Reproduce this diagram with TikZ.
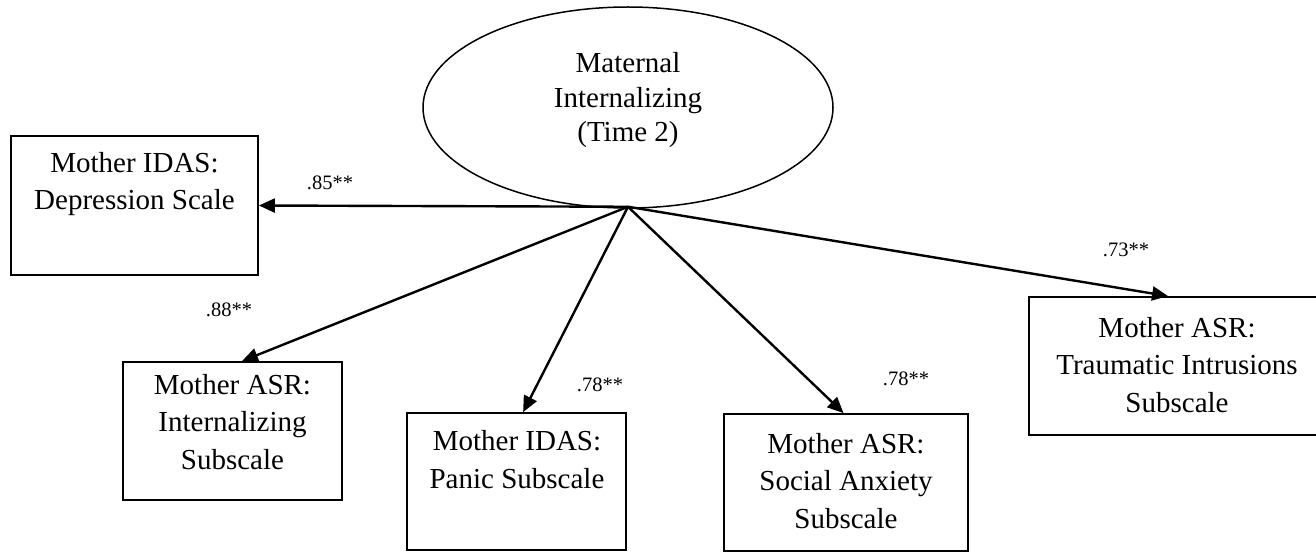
\documentclass[tikz,border=0pt]{standalone}
\usepackage{fontspec}
\setmainfont{Liberation Serif}
\usetikzlibrary{arrows.meta,calc,shapes.geometric}
\tikzset{
  box/.style={draw, line width=1.8pt, rectangle, inner sep=0pt},
  latent/.style={draw, line width=1.5pt, ellipse, inner sep=0pt, minimum width=410pt, minimum height=201pt},
  txt/.style={inner sep=0pt, align=center, anchor=base, font=\fontsize{29}{37.5}\selectfont},
  etxt/.style={inner sep=0pt, align=center, anchor=base, font=\fontsize{29}{34.5}\selectfont},
  coef/.style={inner sep=0pt, anchor=base, font=\fontsize{20.5}{24}\selectfont},
  arr/.style={line width=2.4pt, -{Triangle[length=16pt,width=14pt]}, shorten >=0pt},
}
\begin{document}
\begin{tikzpicture}[x=1pt,y=-1pt]
\useasboundingbox (0,0) rectangle (1316,553);
% latent variable
\node[latent] (lat) at (628,107.5) {};
\node[etxt] (latT) at (628,142) {Maternal\\Internalizing\\(Time 2)};
\coordinate (src) at ([yshift=2pt]lat.south);
% indicator boxes
\node[box, minimum width=247pt, minimum height=139pt] (dep) at (134.5,205.5) {};
\node[box, minimum width=219pt, minimum height=138pt] (int) at (232.5,431) {};
\node[box, minimum width=219pt, minimum height=137pt] (pan) at (516.5,481.5) {};
\node[box, minimum width=244pt, minimum height=137pt] (soc) at (846,482.5) {};
\node[box, minimum width=296pt, minimum height=138pt] (tra) at (1177,366) {};
% box texts (base = baseline of last line)
\node[txt] (depT) at (134.5,210) {Mother IDAS:\\Depression Scale};
\node[txt] (intT) at (232.5,469) {Mother ASR:\\Internalizing\\Subscale};
\node[txt] (panT) at (517,488) {Mother IDAS:\\Panic Subscale};
\node[txt] (socT) at (846,528) {Mother ASR:\\Social Anxiety\\Subscale};
\node[txt] (traT) at (1177,412) {Mother ASR:\\Traumatic Intrusions\\Subscale};
% arrows
\draw[arr] (src) -- (dep.east);
\draw[arr] (src) -- ($(int.north west)!0.543!(int.north east)$);
\draw[arr] (src) -- ($(pan.north west)!0.53!(pan.north east)$);
\draw[arr] (src) -- ($(soc.north west)!0.49!(soc.north east)$);
\draw[arr] (src) -- ($(tra.north west)!0.47!(tra.north east)$);
% coefficients
\node[coef] (c1) at (330,190) {.85**};
\node[coef] (c2) at (229,316.5) {.88**};
\node[coef] (c3) at (600,391.5) {.78**};
\node[coef] (c4) at (906,385) {.78**};
\node[coef] (c5) at (1126,257) {.73**};
\end{tikzpicture}
\end{document}
